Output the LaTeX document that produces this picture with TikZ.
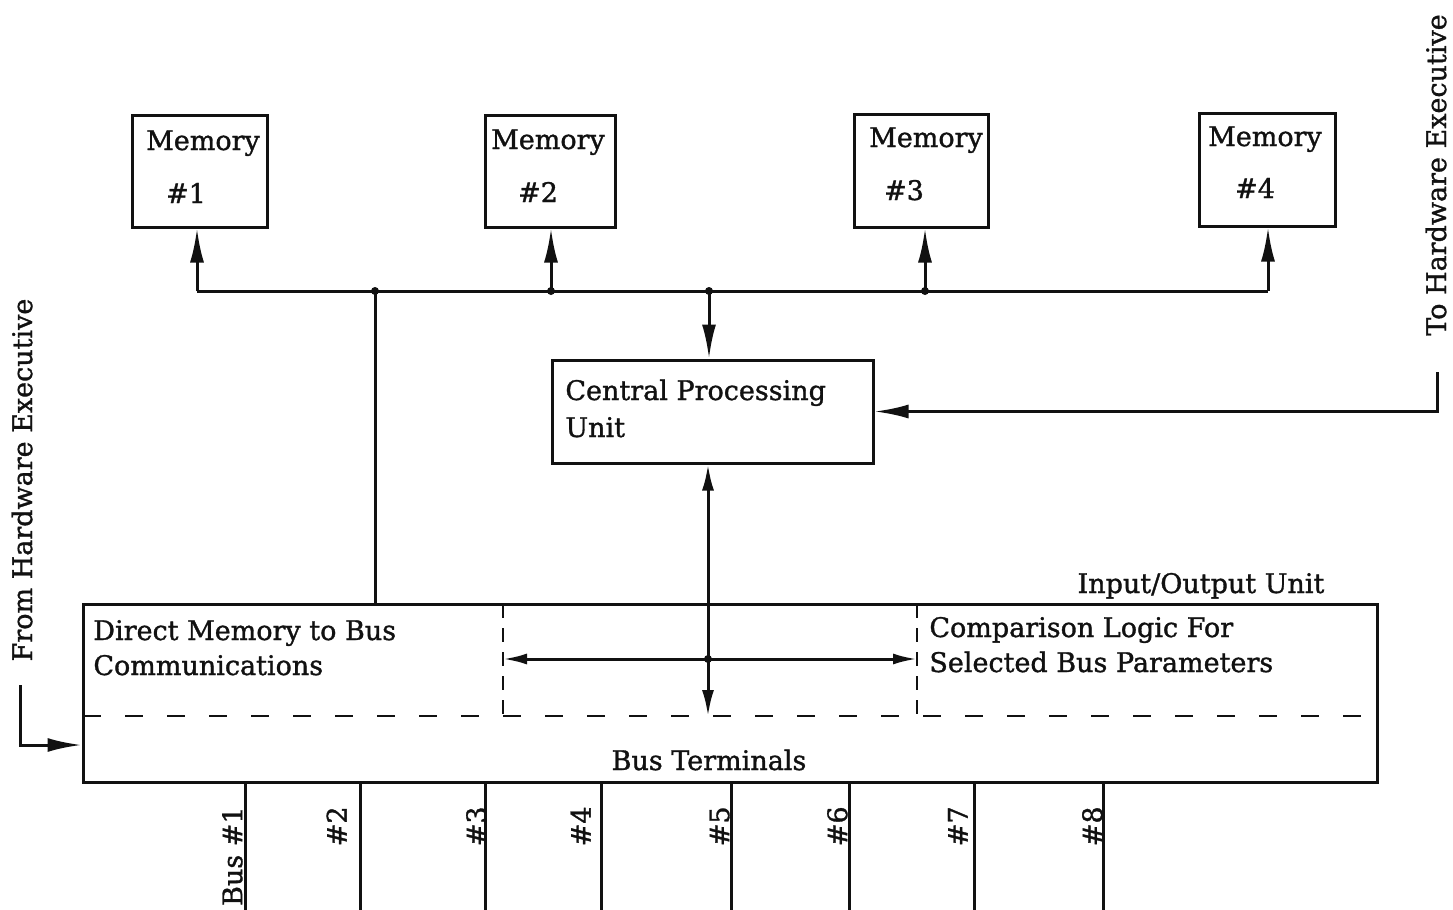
\documentclass[tikz,border=0pt]{standalone}
\usepackage{fontspec}
\setmainfont{DejaVu Serif}[FakeBold=1.2]
\usepackage{xcolor}
\usepackage{tikz}
\usetikzlibrary{arrows.meta}
\definecolor{DiagInk}{HTML}{111111}
\tikzset{
  wire/.style={DiagInk, line width=1.5pt},
  unitbox/.style={draw=DiagInk, line width=1.5pt, fill=white, inner sep=0pt},
  dashrule/.style={DiagInk, line width=1.3pt, dash pattern=on 9pt off 12pt},
  dashpost/.style={DiagInk, line width=1.3pt, dash pattern=on 7pt off 5pt},
  bigtip/.style={-{Latex[length=17pt,width=7pt]}},
  smalltip/.style={-{Latex[length=12pt,width=5.5pt]}},
  bothtips/.style={{Latex[length=13pt,width=6pt]}-{Latex[length=13pt,width=6pt]}},
  lbl/.style={text=DiagInk, font=\fontsize{13.5pt}{17.5pt}\selectfont, inner sep=0pt},
  junction/.style={circle, fill=DiagInk, inner sep=0pt, minimum size=4pt}
}
\begin{document}
\begin{tikzpicture}[x=0.5pt,y=-0.5pt]
        \useasboundingbox (0,0) rectangle (1453,910);
        % memories
        \node[unitbox, minimum width=67.5pt, minimum height=56pt] (mem1) at (199.5,171) {};
        \node[unitbox, minimum width=65pt, minimum height=56pt] (mem2) at (550,171) {};
        \node[unitbox, minimum width=67pt, minimum height=56.5pt] (mem3) at (921,170.5) {};
        \node[unitbox, minimum width=68pt, minimum height=56.5pt] (mem4) at (1267,169.5) {};
        \node[lbl, anchor=base] (mem1name) at (203,150) {Memory};
        \node[lbl, anchor=base] (mem1num) at (186,203) {\#1};
        \node[lbl, anchor=base] (mem2name) at (548,149) {Memory};
        \node[lbl, anchor=base] (mem2num) at (538,202) {\#2};
        \node[lbl, anchor=base] (mem3name) at (926,147) {Memory};
        \node[lbl, anchor=base] (mem3num) at (904,200) {\#3};
        \node[lbl, anchor=base] (mem4name) at (1265,146) {Memory};
        \node[lbl, anchor=base] (mem4num) at (1255,198) {\#4};
        % memory bus
        \coordinate (tap1) at (197,291);
        \coordinate (tap4) at (1268,291);
        \node[junction] (dmaTap) at (375,291) {};
        \node[junction] (tap2) at (551,291) {};
        \node[junction] (cpuTap) at (709,291) {};
        \node[junction] (tap3) at (925,291) {};
        \draw[wire] (tap1) -- (tap4);
        \draw[wire, bigtip] (tap1) -- (tap1 |- mem1.south);
        \draw[wire, bigtip] (tap2.center) -- (tap2 |- mem2.south);
        \draw[wire, bigtip] (tap3.center) -- (tap3 |- mem3.south);
        \draw[wire, bigtip] (tap4) -- (tap4 |- mem4.south);
        % cpu
        \node[unitbox, minimum width=160.5pt, minimum height=51.5pt] (cpu) at (712.5,411.5) {};
        \node[lbl, anchor=base west] (cpuline1) at (565,400) {Central Processing};
        \node[lbl, anchor=base west] (cpuline2) at (565,437) {Unit};
        \draw[wire, bigtip] (cpuTap.center) -- (cpuTap |- cpu.north);
        \coordinate (toExec) at (1437,372);
        \draw[wire, bigtip] (toExec) |- (cpu.east);
        \node[lbl, rotate=90] (toExecLbl) at (1436,175) {To Hardware Executive};
        % input/output unit
        \node[unitbox, minimum width=647pt, minimum height=89pt] (io) at (730,693) {};
        \node[lbl, anchor=base] (ioTitle) at (1201,593) {Input/Output Unit};
        \node[lbl, anchor=base west] (dmaLine1) at (93,640) {Direct Memory to Bus};
        \node[lbl, anchor=base west] (dmaLine2) at (93,675) {Communications};
        \node[lbl, anchor=base west] (cmpLine1) at (929,637) {Comparison Logic For};
        \node[lbl, anchor=base west] (cmpLine2) at (929,672) {Selected Bus Parameters};
        \node[lbl, anchor=base] (termLbl) at (709,770) {Bus Terminals};
        \coordinate (splitL) at (83,716);
        \coordinate (splitR) at (1377,716);
        \draw[dashrule] (splitL) -- (splitR);
        \draw[dashpost] (503,604) -- (503,716);
        \draw[dashpost] (917,604) -- (917,716);
        \coordinate (cmpWest) at (503,659);
        \coordinate (cmpEast) at (917,659);
        \node[junction] (ioTap) at (708,659) {};
        \draw[wire, smalltip] (ioTap.center) -- (cmpWest);
        \draw[wire, smalltip] (ioTap.center) -- (cmpEast);
        \draw[wire, bothtips] (ioTap |- cpu.south) -- (ioTap |- splitL);
        \draw[wire] (dmaTap.center) -- (dmaTap |- io.north);
        \coordinate (fromExec) at (20,685);
        \draw[wire, bigtip] (fromExec) |- ([yshift=-26pt]io.west);
        \node[lbl, rotate=90] (fromExecLbl) at (22,480) {From Hardware Executive};
        % bus lines
        \foreach \i/\bx/\lx/\txt in {1/245/243/Bus \#1, 2/360/347/\#2, 3/485/487/\#3, 4/601/591/\#4, 5/731/730/\#5, 6/849/848/\#6, 7/974/968/\#7, 8/1103/1103/\#8} {
          \coordinate (busEnd\i) at (\bx,910);
          \draw[wire] (busEnd\i |- io.south) -- (busEnd\i);
          \node[lbl, rotate=90, anchor=south east] (busLbl\i) at (\lx,806) {\txt};
        }
      \end{tikzpicture}
\end{document}
